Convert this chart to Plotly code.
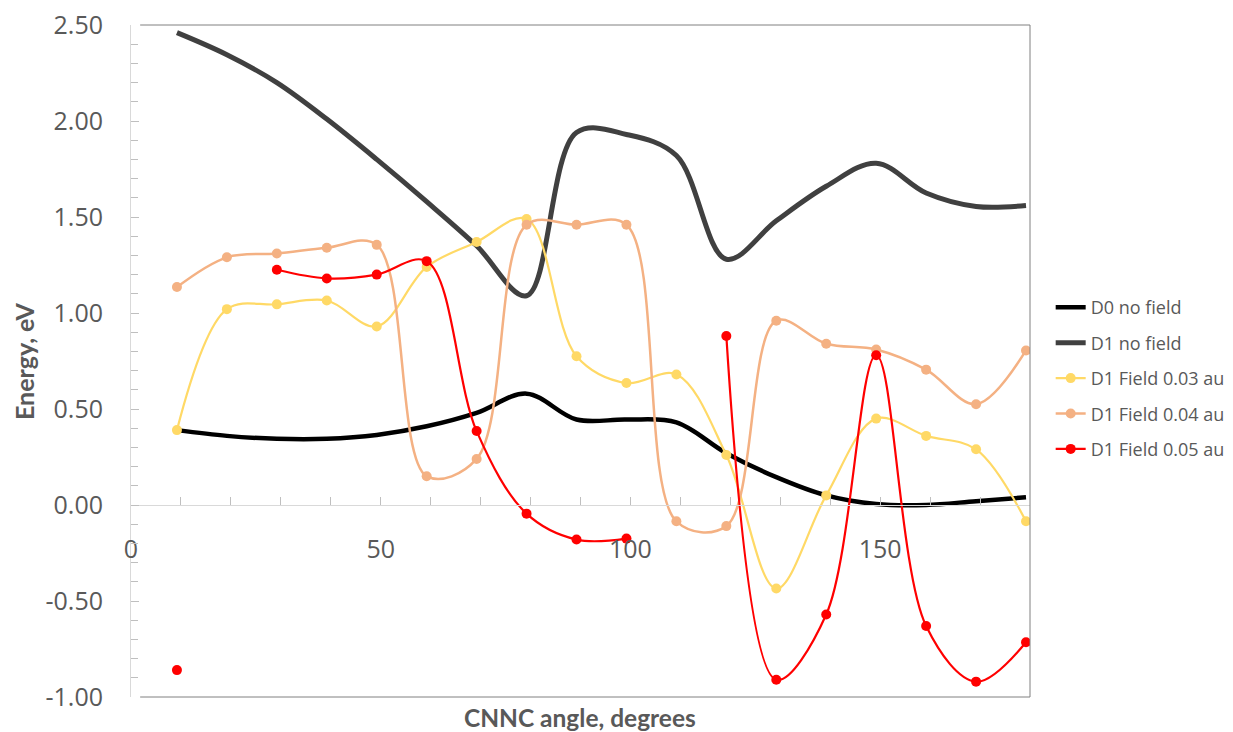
import plotly.graph_objects as go

angles = [9.2, 19.2, 29.2, 39.2, 49.2, 59.2, 69.2, 79.2, 89.2, 99.2,
          109.2, 119.2, 129.2, 139.2, 149.2, 159.2, 169.2, 179.2]
d0_no_field = [0.39, 0.36, 0.345, 0.345, 0.365, 0.41, 0.48, 0.58, 0.445, 0.445,
               0.43, 0.27, 0.145, 0.05, 0.005, 0.0, 0.02, 0.04]
d1_no_field = [2.46, 2.345, 2.2, 2.01, 1.80, 1.58, 1.35, 1.09, 1.94, 1.93,
               1.82, 1.28, 1.48, 1.66, 1.78, 1.625, 1.555, 1.56]
d1_field_003 = [0.39, 1.02, 1.045, 1.065, 0.93, 1.24, 1.37, 1.49, 0.775, 0.635,
                0.68, 0.26, -0.435, 0.05, 0.45, 0.36, 0.29, -0.085]
d1_field_004 = [1.135, 1.29, 1.31, 1.34, 1.355, 0.15, 0.24, 1.46, 1.46, 1.46,
                -0.085, -0.11, 0.96, 0.84, 0.81, 0.705, 0.525, 0.805]
d1_field_005 = [-0.86, None, 1.225, 1.18, 1.2, 1.27, 0.385, -0.045, -0.18, -0.175,
                None, 0.88, -0.91, -0.57, 0.78, -0.63, -0.92, -0.715]

x_tick_vals = [0, 50, 100, 150]
x_tick_text = ["0", "50", "100", "150"]
y_tick_vals = [-1.0, -0.5, 0.0, 0.5, 1.0, 1.5, 2.0, 2.5]
y_tick_text = ["-1.00", "-0.50", "0.00", "0.50", "1.00", "1.50", "2.00", "2.50"]

x_range = [0, 180]
y_range = [-1.0, 2.5]

label_color = "#595959"
tick_font = dict(family="Open Sans", size=25, color=label_color)

fig = go.Figure()

fig.add_trace(go.Scatter(
    x=angles, y=d0_no_field, name="D0 no field", mode="lines",
    line=dict(color="#000000", width=4.5, shape="spline", smoothing=1),
    legendgroup="g1"))
fig.add_trace(go.Scatter(
    x=angles, y=d1_no_field, name="D1 no field", mode="lines",
    line=dict(color="#404040", width=5, shape="spline", smoothing=1),
    legendgroup="g2"))
fig.add_trace(go.Scatter(
    x=angles, y=d1_field_003, name="D1 Field 0.03 au", mode="lines+markers",
    line=dict(color="#FFD966", width=2.2, shape="spline", smoothing=1),
    marker=dict(color="#FFD966", size=10),
    legendgroup="g3"))
fig.add_trace(go.Scatter(
    x=angles, y=d1_field_004, name="D1 Field 0.04 au", mode="lines+markers",
    line=dict(color="#F4B183", width=2.5, shape="spline", smoothing=1),
    marker=dict(color="#F4B183", size=10),
    legendgroup="g4"))
fig.add_trace(go.Scatter(
    x=angles, y=d1_field_005, name="D1 Field 0.05 au", mode="lines+markers",
    line=dict(color="#FF0000", width=2.2, shape="spline", smoothing=1),
    marker=dict(color="#FF0000", size=10),
    connectgaps=False,
    legendgroup="g5"))

zero_pos = (0 - y_range[0]) / (y_range[1] - y_range[0])

fig.update_layout(
    width=1225, height=724,
    margin=dict(l=123, r=203, t=17, b=35, autoexpand=False),
    paper_bgcolor="white", plot_bgcolor="white",
    font=dict(family="Open Sans", color=label_color),
    xaxis=dict(
        range=x_range, anchor="free", position=zero_pos, side="bottom",
        automargin=False, ticklabeloverflow="allow",
        tickmode="array", tickvals=x_tick_vals, ticktext=x_tick_text,
        ticks="inside", ticklen=8, tickcolor="#bfbfbf", tickwidth=1,
        minor=dict(dtick=10, tick0=0, ticks="inside", ticklen=8, tickcolor="#bfbfbf", showgrid=False),
        showline=True, linecolor="#d9d9d9", linewidth=1,
        showgrid=False, zeroline=False,
        tickfont=tick_font, ticklabelstandoff=22,
    ),
    yaxis=dict(
        range=y_range, automargin=False, ticklabeloverflow="allow",
        tickmode="array", tickvals=y_tick_vals, ticktext=y_tick_text,
        ticks="inside", ticklen=8, tickcolor="#bfbfbf", tickwidth=1,
        minor=dict(dtick=0.1, tick0=0, ticks="inside", ticklen=7, tickcolor="#bfbfbf", showgrid=False),
        showline=True, linecolor="#d9d9d9", linewidth=1,
        showgrid=False, zeroline=False,
        tickfont=tick_font, ticklabelstandoff=22,
    ),
    legend=dict(
        x=1.023, y=0.607, xanchor="left", yanchor="top",
        font=dict(family="Open Sans", size=18, color=label_color),
        tracegroupgap=9, bgcolor="rgba(0,0,0,0)",
    ),
    shapes=[
        dict(type="line", xref="paper", yref="paper", x0=0.0102, x1=1, y0=1, y1=1,
             line=dict(color="#808080", width=1)),
        dict(type="line", xref="paper", yref="paper", x0=0.0102, x1=1, y0=0, y1=0,
             line=dict(color="#808080", width=1)),
        dict(type="line", xref="paper", yref="paper", x0=1, x1=1, y0=0, y1=1,
             line=dict(color="#808080", width=1)),
    ],
    annotations=[
        dict(text="<b>CNNC angle, degrees</b>", xref="paper", yref="paper",
             x=0.499, y=-0.031, xanchor="center", yanchor="middle", showarrow=False,
             font=dict(family="Lato", size=24.5, color=label_color)),
        dict(text="<b>Energy, eV</b>", xref="paper", yref="paper",
             x=-0.119, y=0.5, xanchor="center", yanchor="middle", showarrow=False,
             textangle=-90,
             font=dict(family="Lato", size=25, color=label_color)),
    ],
)

fig.write_html("out.html")
